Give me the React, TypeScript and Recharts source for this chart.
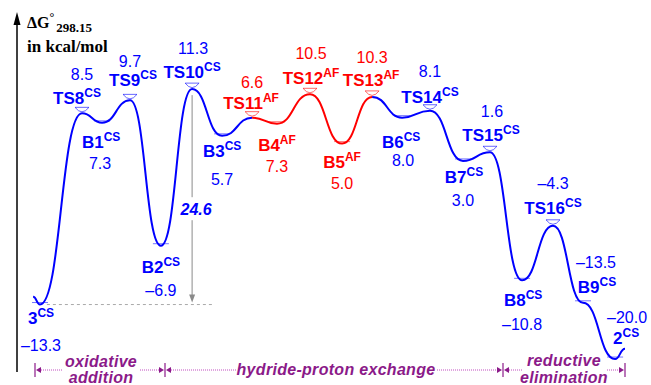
import { Line, LineChart, ReferenceLine, XAxis, YAxis } from "recharts"

// stationary points along the reaction coordinate
const names = ["3", "TS8", "B1", "TS9", "B2", "TS10", "B3", "TS11", "B4", "TS12", "B5", "TS13", "B6", "TS14", "B7", "TS15", "B8", "TS16", "B9", "2"]
const tags = ["CS", "CS", "CS", "CS", "CS", "CS", "CS", "AF", "AF", "AF", "AF", "AF", "CS", "CS", "CS", "CS", "CS", "CS", "CS", "CS"]
// labelled free energies, kcal/mol
const energies = [-13.3, 8.5, 7.3, 9.7, -6.9, 11.3, 5.7, 6.6, 7.3, 10.5, 5.0, 10.3, 8.0, 8.1, 3.0, 1.6, -10.8, -4.3, -13.5, -20.0]
// heights of the drawn (schematic) curve
const levels = [-13.7, 8.4, 7.3, 9.9, -6.9, 11.2, 5.8, 7.9, 7.2, 10.6, 4.9, 10.3, 7.9, 8.7, 2.9, 3.9, -10.9, -4.6, -13.5, -20.0]
const coords = [0, 1.4, 2.07, 3.0, 4.03, 5.07, 6.07, 7.07, 7.9, 9.0, 10.07, 11.07, 12.07, 13.0, 14.1, 15.0, 16.07, 17.1, 18.1, 19.17]
// short curve ends before 3 and after 2
const tailStart = { x: -0.23, level: -12.8 }
const tailEnd = { x: 19.5, level: -18.8 }
const dashEnd = 5.83

const BLUE = "#0000ff"
const RED = "#ff0000"
const PURPLE = "#8b1a89"
const SANS = "'Liberation Sans', Arial, sans-serif"
const SERIF = "'Liberation Serif', 'Times New Roman', serif"

// label offsets: name dx, name dy, value dx, value dy
const layout: Record<string, number[]> = {
  "3": [1, 19, 1, 46],
  TS8: [-5, -9, 0, -33],
  B1: [-1, 25, -2, 46],
  TS9: [3, -14, 0, -33],
  B2: [0, 27, 0, 50],
  TS10: [0, -11, 1, -35],
  B3: [0, 21, 0, 49],
  TS11: [-1, -9, 0, -30],
  B4: [0, 27, 0, 48],
  TS12: [1, -10, 1, -35],
  B5: [0, 24, 0, 45],
  TS13: [-1, -11, 0, -34],
  B6: [-1, 30, 1, 48],
  TS14: [0, -8, 0, -34],
  B7: [1, 22, 0, 45],
  TS15: [1, -11, 2, -35],
  B8: [1, 26, 0, 50],
  TS16: [0, -12, 0, -37],
  B9: [14, -10, 13, -35],
  "2": [11, -15, 12, -36],
}

type Row = { x: number; name: string; tag: string; energy: number | null; cs: number | null; af: number | null }

const rows: Row[] = [{ x: tailStart.x, name: "", tag: "CS", energy: null, cs: tailStart.level, af: null }]
names.forEach((n, i) => {
  const nearCS = tags[i] === "CS" || tags[i - 1] === "CS" || tags[i + 1] === "CS"
  rows.push({
    x: coords[i],
    name: n,
    tag: tags[i],
    energy: energies[i],
    cs: nearCS ? levels[i] : null,
    af: tags[i] === "AF" ? levels[i] : null,
  })
})
rows.push({ x: tailEnd.x, name: "", tag: "CS", energy: null, cs: tailEnd.level, af: null })

const fmt = (v: number) => (v < 0 ? "\u2013" + Math.abs(v).toFixed(1) : v.toFixed(1))

const makeDot = (series: string) => (p: any) => {
  const { cx, cy, payload, index } = p
  const key = `${series}-${index}`
  if (cx == null || cy == null || !payload || !payload.name || payload.tag !== series) return <g key={key} />
  const color = series === "AF" ? RED : BLUE
  const isTS = payload.name.startsWith("TS")
  const [ndx, ndy, vdx, vdy] = layout[payload.name]
  return (
    <g key={key}>
      {isTS ? (
        <g stroke={color} strokeOpacity={0.6} strokeWidth={1} fill="none">
          <line x1={cx - 7} y1={cy - 6} x2={cx + 7} y2={cy - 6} />
          <path d={`M${cx - 7},${cy - 6} Q${cx},${cy + 3} ${cx + 7},${cy - 6}`} />
        </g>
      ) : (
        <line x1={cx - 8} y1={cy - 2} x2={cx + 8} y2={cy - 2} stroke={color} strokeOpacity={0.55} strokeWidth={1} />
      )}
      <text x={cx + ndx} y={cy + ndy} textAnchor="middle" fontFamily={SANS} fontWeight="bold" fontSize={17} fill={color}>
        {payload.name}
        <tspan fontSize={12} dy={-7}>{payload.tag}</tspan>
      </text>
      <text x={cx + vdx} y={cy + vdy} textAnchor="middle" fontFamily={SANS} fontSize={16} fill={color}>
        {fmt(payload.energy)}
      </text>
    </g>
  )
}

const span = energies[5] - energies[0]

const SpanArrow = (p: any) => {
  const x = p.x1
  const top = Math.min(p.y1, p.y2) + 6
  const bot = Math.max(p.y1, p.y2) - 2
  const mid = top + (bot - top) * 0.55
  return (
    <g>
      <line x1={x} y1={top} x2={x} y2={mid - 12} stroke="#8a8a8a" strokeWidth={1} />
      <line x1={x} y1={mid + 11} x2={x} y2={bot - 6} stroke="#8a8a8a" strokeWidth={1} />
      <polygon points={`${x - 3},${bot - 8} ${x + 3},${bot - 8} ${x},${bot}`} fill="#8a8a8a" />
      <text x={x + 4} y={mid + 6} textAnchor="middle" fontFamily={SANS} fontWeight="bold" fontStyle="italic" fontSize={16} fill={BLUE}>
        {span.toFixed(1)}
      </text>
    </g>
  )
}

const Bracket = ({ x, left, right }: { x: number; left?: boolean; right?: boolean }) => (
  <g fill={PURPLE} stroke={PURPLE}>
    <line x1={x} y1={363} x2={x} y2={377} strokeWidth={1.2} />
    {left && <polygon points={`${x - 1},370 ${x - 6},367 ${x - 6},373`} stroke="none" />}
    {right && <polygon points={`${x + 1},370 ${x + 6},367 ${x + 6},373`} stroke="none" />}
  </g>
)

const dotted = (x1: number, x2: number) => (
  <line x1={x1} y1={370} x2={x2} y2={370} stroke="#c04cc0" strokeWidth={1} strokeDasharray="1 1" />
)

export default function App() {
  return (
    <div style={{ position: "absolute", left: 0, top: 0, width: 651, height: 385, background: "#fff" }}>
      <LineChart width={651} height={385} data={rows} margin={{ top: 0, right: 0, bottom: 0, left: 0 }}>
        <XAxis type="number" dataKey="x" domain={[-4 / 3, 20.3667]} allowDataOverflow hide />
        <YAxis type="number" domain={[-23, 21.5]} allowDataOverflow hide />
        <ReferenceLine
          segment={[{ x: coords[0] + 0.23, y: levels[0] }, { x: dashEnd, y: levels[0] }]}
          stroke="#aaaaaa"
          strokeDasharray="3 3"
        />
        <ReferenceLine segment={[{ x: coords[5], y: levels[5] }, { x: coords[5], y: levels[0] }]} shape={SpanArrow} />
        <Line
          dataKey="cs"
          type="bumpX"
          stroke={BLUE}
          strokeWidth={2}
          dot={makeDot("CS")}
          activeDot={false}
          connectNulls={false}
          isAnimationActive={false}
        />
        <Line
          dataKey="af"
          type="bumpX"
          stroke={RED}
          strokeWidth={2}
          dot={makeDot("AF")}
          activeDot={false}
          connectNulls={false}
          isAnimationActive={false}
        />
      </LineChart>
      <svg width={651} height={385} style={{ position: "absolute", left: 0, top: 0, pointerEvents: "none" }}>
        <line x1={17} y1={22} x2={17} y2={372} stroke="#000" strokeWidth={1.5} />
        <polygon points="17,12 13.5,25 20.5,25" fill="#000" />
        <text x={27} y={28} fontFamily={SERIF} fontWeight="bold" fontSize={16} fill="#000">
          ΔG<tspan fontSize={12} dy={-7}>°</tspan>
          <tspan fontSize={13} dy={11} dx={2}>298.15</tspan>
        </text>
        <text x={27} y={52} fontFamily={SERIF} fontWeight="bold" fontSize={17} fill="#000">
          in kcal/mol
        </text>
        <g fontFamily={SANS} fontWeight="bold" fontStyle="italic" fontSize={16} fill={PURPLE} textAnchor="middle" letterSpacing={0.3}>
          <text x={101} y={367}>oxidative</text>
          <text x={101} y={383}>addition</text>
          <text x={336} y={375}>hydride-proton exchange</text>
          <text x={564} y={366}>reductive</text>
          <text x={564} y={383}>elimination</text>
        </g>
        {dotted(41, 63)}
        {dotted(140, 159)}
        {dotted(171, 236)}
        {dotted(437, 497)}
        {dotted(509, 523)}
        {dotted(607, 619)}
        <Bracket x={35} right />
        <Bracket x={165} left right />
        <Bracket x={503} left right />
        <Bracket x={625} left />
      </svg>
    </div>
  )
}
